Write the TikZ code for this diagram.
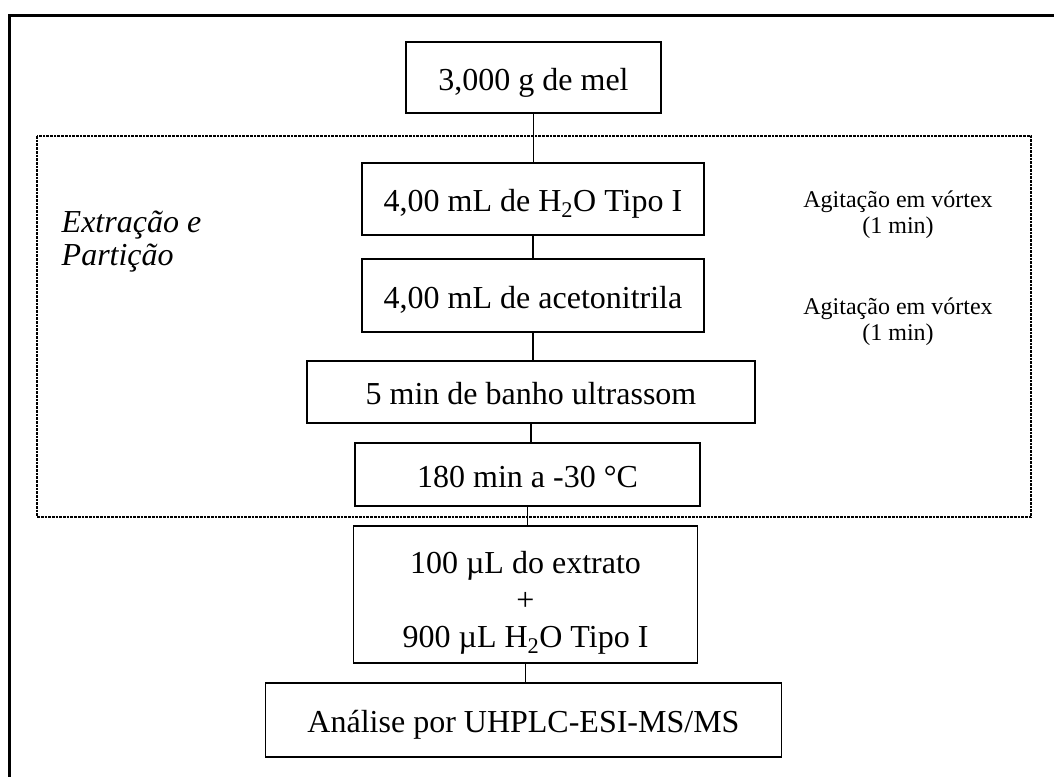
\documentclass[tikz,border=0pt]{standalone}
\usepackage{fontspec}
\setmainfont{Liberation Serif}
\begin{document}
\begin{tikzpicture}[x=1pt,y=-1pt,
  box/.style={draw, line width=1.8pt, inner sep=0pt, font=\fontsize{32}{37}\selectfont, text height=25pt, text depth=0pt},
  tallbox/.style={draw, line width=1.8pt, inner sep=0pt, font=\fontsize{32}{37}\selectfont, align=center},
  side/.style={font=\fontsize{24}{25.5}\selectfont, align=center, inner sep=0pt, anchor=base},
  group/.style={font=\itshape\fontsize{32}{33}\selectfont, align=left, inner sep=0pt, anchor=base west},
  link/.style={line width=1.1pt}]
\clip (0,0) rectangle (1054,776);
\useasboundingbox (0,0) rectangle (1054,776);
% outer frame (cropped on right and bottom)
\draw[line width=3pt] (9.5,800) -- (9.5,15.5) -- (1080,15.5);
% dotted group frame
\draw[line width=2.3pt, dash pattern=on 2.7pt off 1pt] (37,136) rectangle (1031,517);
% boxes
\node[box, minimum width=255pt, minimum height=71pt] (b1) at (533.5,77.5) {3,000 g de mel};
\node[box, minimum width=342pt, minimum height=72pt] (b2) at (533,199) {4,00 mL de H\textsubscript{2}O Tipo I};
\node[box, minimum width=342pt, minimum height=73pt] (b3) at (533,295.5) {4,00 mL de acetonitrila};
\node[box, minimum width=448pt, minimum height=62pt] (b4) at (531,392) {5 min de banho ultrassom};
\node[box, minimum width=345pt, minimum height=63pt] (b5) at (527.5,474.5) {180 min a -30 °C};
\node[tallbox, minimum width=344pt, minimum height=137pt] (b6) at (525.5,594.5) {\rule{0pt}{38pt}100 µL do extrato\\+\\900 µL H\textsubscript{2}O Tipo I};
\node[box, minimum width=516pt, minimum height=74pt] (b7) at (523.5,720) {Análise por UHPLC-ESI-MS/MS};
% side notes (base anchor = baseline of last line)
\node[side] (s1) at (898,233) {Agitação em vórtex\\(1 min)};
\node[side] (s2) at (898,340) {Agitação em vórtex\\(1 min)};
\node[group] (g) at (61.5,265) {Extração e\\Partição};
% connectors
\draw[link] (b1.south) -- (b1.south |- b2.north);
\draw[link] (b2.south) -- (b2.south |- b3.north);
\draw[link] (b3.south) -- (b3.south |- b4.north);
\draw[link] (b4.south) -- (b4.south |- b5.north);
\draw[link] (b5.south) -- (b5.south |- b6.north);
\draw[link] (b6.south) -- (b6.south |- b7.north);
\end{tikzpicture}
\end{document}
